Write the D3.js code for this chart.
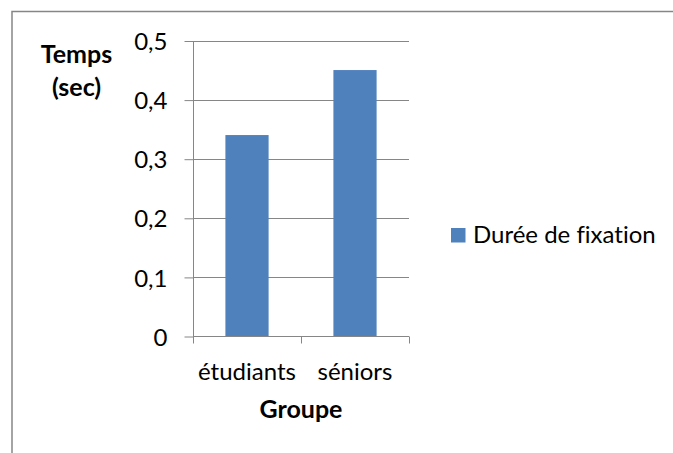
<!DOCTYPE html>
<html>
<head>
<meta charset="utf-8">
<script src="https://cdn.jsdelivr.net/npm/d3@7"></script>
<style>
  body { margin: 0; background: #fff; }
  svg text { font-family: Lato, "Open Sans", sans-serif; fill: #000; font-variant-ligatures: none; }
</style>
</head>
<body>
<div id="chart"></div>
<script>
var groups = ["étudiants", "séniors"];
var dureeFixation = [0.34, 0.45];
var yTicks = [0, 0.1, 0.2, 0.3, 0.4, 0.5];
var seriesName = "Durée de fixation";

var W = 673, H = 453;
var plot = {left: 193, right: 409, top: 40.5, bottom: 336};
var grey = "#868686";
var fs = "24px", fsBold = "25px";

var svg = d3.select("#chart").append("svg")
    .attr("width", W)
    .attr("height", H);

// outer chart frame (cut by the window at right and bottom)
svg.append("rect")
    .attr("x", 12).attr("y", 11.5)
    .attr("width", 700).attr("height", 500)
    .attr("fill", "none")
    .attr("stroke", grey)
    .attr("stroke-width", 1.5);

var x = d3.scaleBand()
    .domain(groups)
    .range([plot.left, plot.right])
    .paddingInner(0.6)
    .paddingOuter(0.3);

var y = d3.scaleLinear()
    .domain([0, 0.5])
    .range([plot.bottom, plot.top]);

// gridlines
svg.append("g")
  .selectAll("line")
  .data(yTicks.slice(1))
  .enter().append("line")
    .attr("x1", plot.left).attr("x2", plot.right)
    .attr("y1", function(d) { return Math.round(y(d)) + 0.5; })
    .attr("y2", function(d) { return Math.round(y(d)) + 0.5; })
    .attr("stroke", grey);

// y axis
var yAxis = svg.append("g")
    .attr("transform", "translate(" + (plot.left + 0.5) + ",0.5)")
    .call(d3.axisLeft(y)
        .tickValues(yTicks)
        .tickSize(9)
        .tickPadding(17)
        .tickFormat(function(d) { return d3.format(".1~f")(d).replace(".", ","); }));
yAxis.select(".domain").attr("stroke", grey).attr("d", "M0," + plot.bottom + "V" + plot.top);
yAxis.selectAll(".tick line").attr("stroke", grey);
yAxis.selectAll(".tick text")
    .style("font-size", fs)
    .attr("fill", "#000")
    .attr("dy", "0.36em");

// bars
svg.append("g")
  .selectAll("rect")
  .data(groups)
  .enter().append("rect")
    .attr("x", function(d) { return x(d); })
    .attr("width", x.bandwidth())
    .attr("y", function(d, i) { return y(dureeFixation[i]); })
    .attr("height", function(d, i) { return plot.bottom - y(dureeFixation[i]); })
    .attr("fill", "#4F81BD");

// x axis: ticks at the category boundaries
var step = (plot.right - plot.left) / groups.length;
var xAxis = svg.append("g")
    .attr("transform", "translate(0," + (plot.bottom + 0.5) + ")");
xAxis.append("line")
    .attr("x1", plot.left).attr("x2", plot.right)
    .attr("stroke", grey);
xAxis.selectAll(".bnd")
  .data(d3.range(groups.length + 1))
  .enter().append("line")
    .attr("class", "bnd")
    .attr("x1", function(i) { return Math.round(plot.left + i * step) + 0.5; })
    .attr("x2", function(i) { return Math.round(plot.left + i * step) + 0.5; })
    .attr("y1", 0).attr("y2", 7)
    .attr("stroke", grey);
xAxis.selectAll(".lbl")
  .data(groups)
  .enter().append("text")
    .attr("class", "lbl")
    .attr("x", function(d, i) { return plot.left + (i + 0.5) * step; })
    .attr("y", 43)
    .attr("text-anchor", "middle")
    .style("font-size", fs)
    .text(function(d) { return d; });

// axis titles
svg.append("text")
    .attr("x", 301).attr("y", 418)
    .attr("text-anchor", "middle")
    .style("font-size", fsBold)
    .style("font-weight", "bold")
    .text("Groupe");

var yTitle = svg.append("text")
    .attr("text-anchor", "middle")
    .style("font-size", fsBold)
    .style("font-weight", "bold");
yTitle.append("tspan").attr("x", 76.5).attr("y", 63).text("Temps");
yTitle.append("tspan").attr("x", 76.5).attr("y", 96).text("(sec)");

// legend
var legend = svg.append("g").attr("transform", "translate(451,228)");
legend.append("rect")
    .attr("width", 14.5).attr("height", 14.5)
    .attr("fill", "#4F81BD");
legend.append("text")
    .attr("x", 22).attr("y", 15)
    .style("font-size", fs)
    .text(seriesName);
</script>
</body>
</html>
